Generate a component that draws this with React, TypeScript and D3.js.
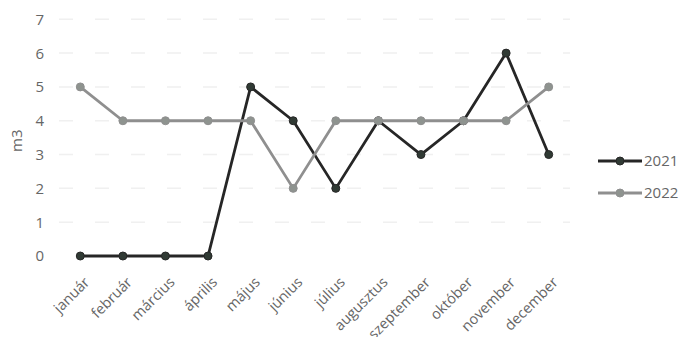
import React from "react";
import * as d3 from "d3";

const months = ["január", "február", "március", "április", "május", "június", "július", "augusztus", "szeptember", "október", "november", "december"];
const values2021 = [0, 0, 0, 0, 5, 4, 2, 4, 3, 4, 6, 3];
const values2022 = [5, 4, 4, 4, 4, 2, 4, 4, 4, 4, 4, 5];
const yTicks = [0, 1, 2, 3, 4, 5, 6, 7];
const seriesNames = ["2021", "2022"];

const W = 681, H = 337;
const left = 59, right = 570, top = 19.3, bottom = 256;

export default function App() {
  const x = d3.scalePoint<string>().domain(months).range([left, right]).padding(0.5);
  const y = d3.scaleLinear().domain([0, 7]).range([bottom, top]);
  const line = d3.line<number>().x((_, i) => x(months[i])!).y((d) => y(d));
  const series = [
    { name: seriesNames[0], values: values2021, color: "#262626", fill: "#303a34" },
    { name: seriesNames[1], values: values2022, color: "#8f8f8f", fill: "#8e938f" },
  ];
  const font = "'Open Sans', 'Noto Sans', sans-serif";
  const tc = "#666";
  return (
    <svg width={W} height={H} style={{ position: "absolute", left: 0, top: 0, background: "#fff" }}>
      {yTicks.map((t) => (
        <g key={t}>
          {t > 0 && <line x1={left} x2={right} y1={y(t)} y2={y(t)} stroke="#f0f0f0" strokeWidth={1.5} strokeDasharray="14 22" />}
          <text x={44} y={y(t)} dy="0.36em" textAnchor="end" fontSize={15} fill={tc} fontFamily={font}>{t}</text>
        </g>
      ))}
      <text transform={`translate(22,${(top + bottom) / 2 + 3}) rotate(-90)`} textAnchor="middle" fontSize={15} fill={tc} fontFamily={font}>m3</text>
      {months.map((m) => (
        <text key={m} transform={`translate(${x(m)! + 3},${bottom + 20}) rotate(-45)`} textAnchor="end" dy="0.7em" fontSize={14.5} fill={tc} fontFamily={font}>{m}</text>
      ))}
      {series.map((s) => (
        <g key={s.name}>
          <path d={line(s.values)!} fill="none" stroke={s.color} strokeWidth={2.8} strokeLinejoin="round" />
          {s.values.map((v, i) => (
            <circle key={i} cx={x(months[i])} cy={y(v)} r={4} fill={s.fill} stroke={s.color} strokeWidth={1} />
          ))}
        </g>
      ))}
      {series.map((s, i) => {
        const ly = 161 + i * 32;
        return (
          <g key={s.name}>
            <line x1={598} x2={642} y1={ly} y2={ly} stroke={s.color} strokeWidth={2.8} />
            <circle cx={620} cy={ly} r={4} fill={s.fill} stroke={s.color} strokeWidth={1} />
            <text x={644} y={ly} dy="0.36em" fontSize={15} fill={tc} fontFamily={font}>{s.name}</text>
          </g>
        );
      })}
    </svg>
  );
}
